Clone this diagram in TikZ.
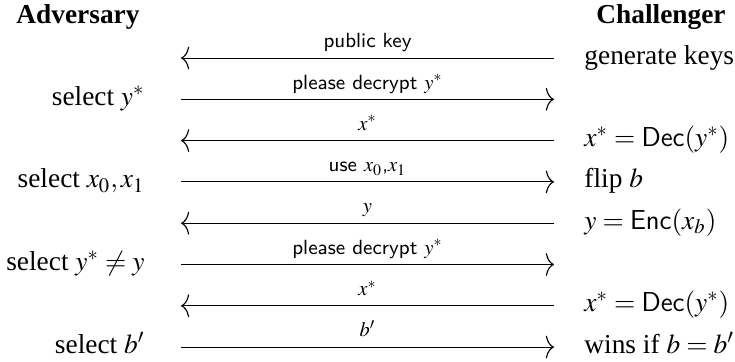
\documentclass[tikz,border=0pt]{standalone}
\usepackage{mathptmx}
\usepackage{fontspec}
\setmainfont{Liberation Serif}
\usetikzlibrary{arrows.meta}

\tikzset{
  party/.style={inner sep=0pt, font=\fontsize{12}{14}\selectfont\bfseries, anchor=base},
  act/.style={inner sep=0pt, font=\fontsize{12}{14}\selectfont},
  adv/.style={act, anchor=base east},
  chal/.style={act, anchor=base west},
  lbl/.style={inner sep=0pt, anchor=base, yshift=4.5pt,
              font=\fontsize{9}{11}\selectfont\sffamily},
  msg/.style={line width=0.4pt,
              -{Computer Modern Rightarrow[length=3.6pt,width=10pt,line width=0.5pt]}},
}

\begin{document}
\begin{tikzpicture}[x=0.4386pt, y=-0.4386pt]
  \useasboundingbox (0,0) rectangle (735,362);

  % column heads
  \node[party] (adversary)  at (78,24)  {Adversary};
  \node[party] (challenger) at (661,24) {Challenger};

  % end points of the message lines, one pair per round
  \foreach \i/\y in {0/58,1/99.3,2/140.6,3/181.9,4/223.2,5/264.5,6/305.8,7/347.1}{
    \coordinate (a\i) at (181,\y);
    \coordinate (c\i) at (554,\y);
  }

  % messages
  \draw[msg] (c0) -- node[lbl] (m0) {public key} (a0);
  \draw[msg] (a1) -- node[lbl] (m1) {please decrypt $y^*$} (c1);
  \draw[msg] (c2) -- node[lbl] (m2) {$x^*$} (a2);
  \draw[msg] (a3) -- node[lbl] (m3) {use $x_0$,$x_1$} (c3);
  \draw[msg] (c4) -- node[lbl] (m4) {$y$} (a4);
  \draw[msg] (a5) -- node[lbl] (m5) {please decrypt $y^*$} (c5);
  \draw[msg] (c6) -- node[lbl] (m6) {$x^*$} (a6);
  \draw[msg] (a7) -- node[lbl] (m7) {$b'$} (c7);

  % adversary steps
  \node[adv] (s1) at (145,105.3) {select $y^*$};
  \node[adv] (s3) at (145,187.9) {select $x_0,x_1$};
  \node[adv] (s5) at (145,270.5) {select $y^*\neq y$};
  \node[adv] (s7) at (145,353.1) {select $b'$};

  % challenger steps
  \node[chal] (g0) at (584,64)    {generate keys};
  \node[chal] (g2) at (584,146.6) {$x^*=\mathsf{Dec}(y^*)$};
  \node[chal] (g3) at (584,187.9) {flip $b$};
  \node[chal] (g4) at (584,229.2) {$y=\mathsf{Enc}(x_b)$};
  \node[chal] (g6) at (584,311.8) {$x^*=\mathsf{Dec}(y^*)$};
  \node[chal] (g7) at (584,353.1) {wins if $b=b'$};
\end{tikzpicture}
\end{document}
